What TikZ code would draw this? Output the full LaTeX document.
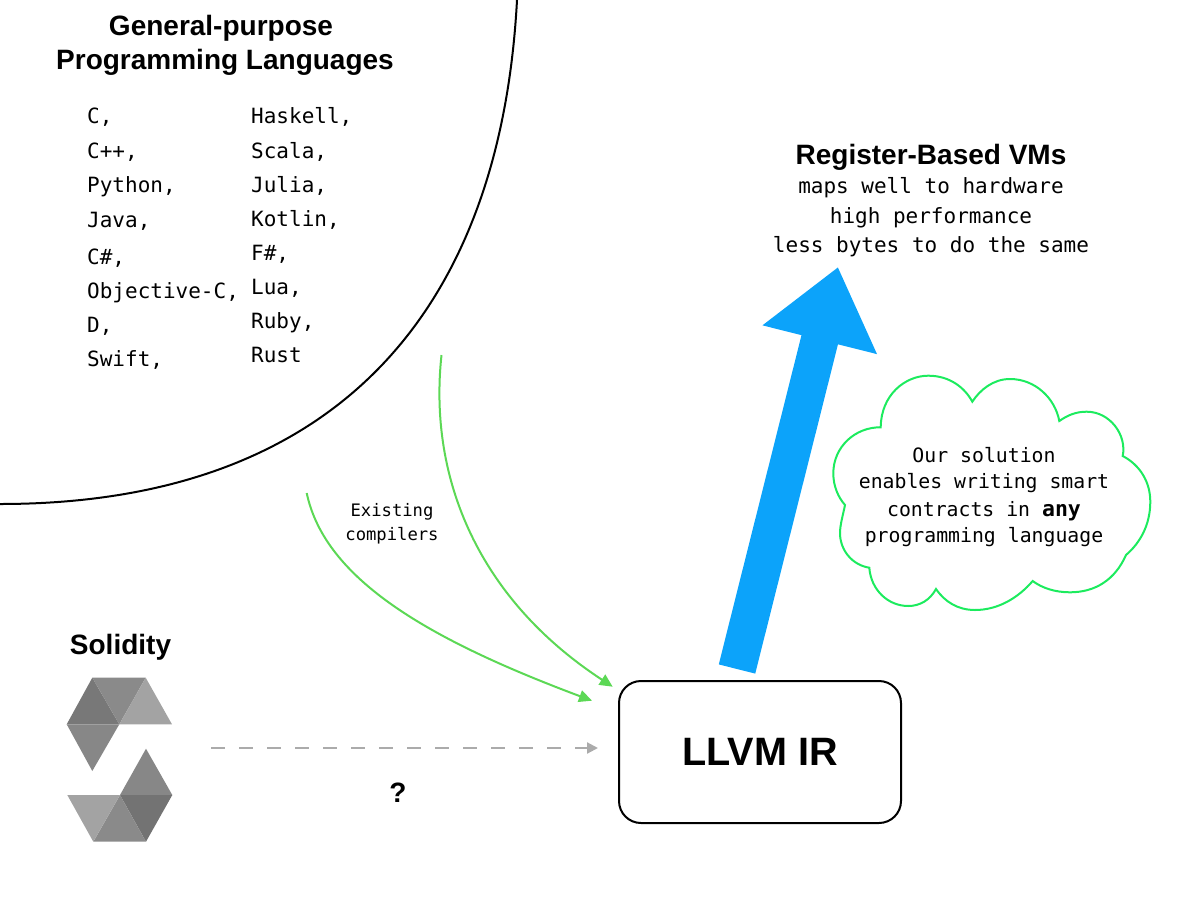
\documentclass[tikz,border=0pt]{standalone}
\usepackage{fontspec}
\setmainfont{Liberation Sans}
\setmonofont{DejaVu Sans Mono}
\usetikzlibrary{arrows.meta}
\definecolor{blu}{HTML}{0CA3FA}
\definecolor{grn}{HTML}{5CD855}
\definecolor{cld}{HTML}{1CEB5E}
\tikzset{
  x=1pt,y=-1pt,
  head/.style={font=\fontsize{#1}{#1}\selectfont\bfseries,inner sep=0pt,align=center},
  lang/.style={font=\fontsize{21}{21}\selectfont\ttfamily,inner sep=0pt,anchor=base west},
  mono/.style={font=\fontsize{21}{21}\selectfont\ttfamily,inner sep=0pt,anchor=base},
  cloudtxt/.style={font=\fontsize{19.8}{19.8}\selectfont\ttfamily,inner sep=0pt,anchor=base},
  small/.style={font=\fontsize{17.2}{17.2}\selectfont\ttfamily,inner sep=0pt,anchor=base},
  greenarrow/.style={draw=grn,line width=2pt,-{Triangle[length=13pt,width=12pt]}},
}
\begin{document}
\begin{tikzpicture}
\useasboundingbox (0,0) rectangle (1200,900);
% big arc
\draw[black,line width=2pt] (517,0) .. controls (500,320) and (328,504) .. (0,504);
\node[head=28] (t1) at (221,28) {General-purpose};
\node[head=28] (t2) at (225,62) {Programming Languages};
% languages
\foreach \n/\y/\s in {a/123/{C,},b/158/{C++,},c/192/{Python,},d/227/{Java,},e/264/{C\#,},f/298/{Objective-C,},g/332/{D,},h/366/{Swift,}}
  \node[lang] (l\n) at (87,\y) {\s};
\foreach \n/\y/\s in {a/123/{Haskell,},b/158/{Scala,},c/192/{Julia,},d/226/{Kotlin,},e/260/{F\#,},f/294/{Lua,},g/328/{Ruby,},h/362/{Rust}}
  \node[lang] (r\n) at (251,\y) {\s};
% register VMs
\node[head=28] (vm) at (931,157) {Register-Based VMs};
\node[mono] (v1) at (931,193) {maps well to hardware};
\node[mono] (v2) at (931,223) {high performance};
\node[mono] (v3) at (931,252) {less bytes to do the same};
% blue arrow
\coordinate (bs) at (737,669);
\coordinate (bt) at (838,267);
\draw[blu,line width=37.6pt,-{Triangle[length=75pt,width=113pt]}] (bs) -- (bt);
% cloud
\draw[cld,line width=2pt,line join=miter]
 (880.7,427.3) .. controls (881,395) and (905,375.7) .. (928.3,375.7)
 .. controls (950,375.7) and (965,388) .. (972.3,401.7)
 .. controls (980,390) and (993,379) .. (1010,379)
 .. controls (1035,379) and (1055,398) .. (1059.3,421)
 .. controls (1068,415) and (1076,411.7) .. (1086.7,411.7)
 .. controls (1110,411.7) and (1127,435) .. (1122.7,456)
 .. controls (1140,465) and (1150.3,482) .. (1150.3,501.7)
 .. controls (1150.3,525) and (1140,543) .. (1126,555)
 .. controls (1115,580) and (1095,592.3) .. (1070,592.3)
 .. controls (1055,592.3) and (1042,588) .. (1032.7,581)
 .. controls (1018,598) and (998,610) .. (975,610)
 .. controls (958,610) and (945,602) .. (936,589)
 .. controls (930,600) and (920,606) .. (908.3,606)
 .. controls (888,606) and (871,590) .. (869.3,567.7)
 .. controls (852,565) and (840,550) .. (840,533)
 .. controls (840,525) and (843,515) .. (845,505)
 .. controls (838,497) and (833.3,486) .. (833.3,473.3)
 .. controls (833.3,447) and (855,427) .. (880.7,427.3) -- cycle;
\node[cloudtxt] (c1) at (984,462) {Our solution};
\node[cloudtxt] (c2) at (984,488) {enables writing smart};
\node[cloudtxt] (c3) at (984,516) {contracts in {\fontsize{21.5}{21.5}\selectfont\bfseries any}};
\node[cloudtxt] (c4) at (984,542) {programming language};
% LLVM
\node[draw=black,line width=2pt,rounded corners=22pt,minimum width=282pt,minimum height=142pt,inner sep=0pt,font=\fontsize{39.6}{40}\selectfont\bfseries] (llvm) at (760,752) {\raisebox{-1pt}{LLVM IR}};
% green
\coordinate (ga) at (441.5,355);
\coordinate (gae) at (612.7,686.7);
\coordinate (gb) at (306.7,493);
\coordinate (gbe) at (592,700.7);
\draw[greenarrow] (ga) .. controls (428,480) and (480,600) .. (gae);
\draw[greenarrow] (gb) .. controls (325,580) and (430,640) .. (gbe);
\node[small] (ex1) at (392,516) {Existing};
\node[small] (ex2) at (392,540) {compilers};
% solidity
\node[head=28] (sol) at (120.5,647) {Solidity};
\fill[black!53] (92.3,677.7) -- (119.3,724.3) -- (66.7,724.3) -- cycle;
\fill[black!46] (92.3,677.7) -- (145.7,677.7) -- (119.3,724.3) -- cycle;
\fill[black!36] (145.7,677.7) -- (172,724.3) -- (119.3,724.3) -- cycle;
\fill[black!47] (66.7,724.3) -- (119.3,724.3) -- (92.3,771) -- cycle;
\fill[black!47] (146,748.7) -- (172.3,795) -- (120,795) -- cycle;
\fill[black!55] (120,795) -- (172.3,795) -- (146,841.7) -- cycle;
\fill[black!46] (120,795) -- (146,841.7) -- (93.3,841.7) -- cycle;
\fill[black!36] (67.3,795) -- (120,795) -- (93.3,841.7) -- cycle;
% dashed
\coordinate (ds) at (211,748);
\coordinate (de) at (598,748);
\draw[black!33,line width=2.2pt,dash pattern=on 14pt off 14pt,-{Triangle[length=11pt,width=11pt]}] (ds) -- (de);
\node[head=28] (q) at (398,793) {?};
\end{tikzpicture}
\end{document}
